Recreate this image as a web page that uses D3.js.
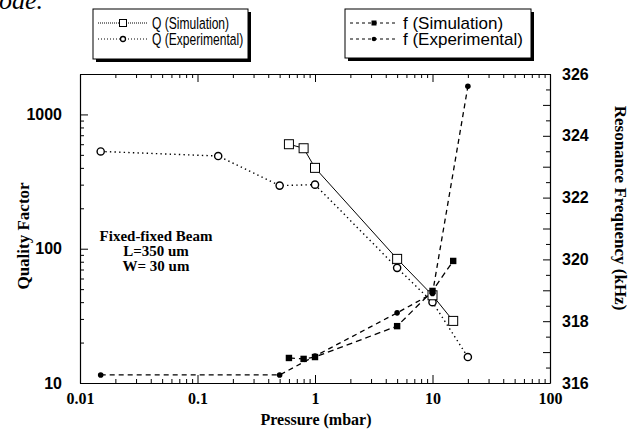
<!DOCTYPE html>
<html lang="en">
<head>
<meta charset="UTF-8">
<title>Quality factor and resonance frequency vs pressure</title>
<script src="https://d3js.org/d3.v7.min.js"></script>
<style>
  body { margin: 0; background: #fff; }
  svg { display: block; }
  .serif { font-family: "Liberation Serif", "Times New Roman", serif; font-weight: bold; }
  .sans { font-family: "Liberation Sans", Arial, sans-serif; }
</style>
</head>
<body>
<svg width="632" height="435"></svg>
<script>
// values
const qSimP = [0.6, 0.8, 1, 5, 10, 15];
const qSimQ = [600, 560, 400, 84, 45, 29];
const qExpP = [0.015, 0.15, 0.5, 1, 5, 10, 20];
const qExpQ = [530, 490, 295, 300, 72, 40, 15.6];
const fSimP = [0.6, 0.8, 1, 5, 10, 15];
const fSimF = [316.81, 316.78, 316.84, 317.84, 318.98, 319.95];
const fExpP = [0.015, 0.5, 1, 5, 10, 20];
const fExpF = [316.26, 316.26, 316.87, 318.27, 318.9, 325.6];

const xTickLabels = ["0.01", "0.1", "1", "10", "100"];
const qTickLabels = ["10", "100", "1000"];
const fTickLabels = ["316", "318", "320", "322", "324", "326"];

const legendQ = ["Q (Simulation)", "Q (Experimental)"];
const legendF = ["f (Simulation)", "f (Experimental)"];
const beamText = ["Fixed-fixed Beam", "L=350 um", "W= 30 um"];

const svg = d3.select("svg");
const pLeft = 80, pRight = 550, pTop = 74, pBottom = 383;

const x = d3.scaleLog().domain([0.01, 100]).range([pLeft, pRight]);
const yQ = d3.scaleLog().domain([10, 2000]).range([pBottom, pTop]);
const yF = d3.scaleLinear().domain([316, 326]).range([pBottom, pTop]);

const isDecade = v => Math.abs(Math.log10(v) - Math.round(Math.log10(v))) < 1e-9;

// ticks: 1..9 per decade
const xTicks = x.ticks();
const qTicks = yQ.ticks().concat([2000]).filter((v, i, a) => a.indexOf(v) === i);
const fTicks = d3.range(316, 326.01, 0.5);

function styleAxis(g) {
  g.select(".domain").attr("stroke", "#000").attr("stroke-width", 1.2);
  g.selectAll(".tick line").attr("stroke", "#000").attr("stroke-width", 1);
}

// bottom
const gB = svg.append("g").attr("transform", `translate(0,${pBottom})`)
  .call(d3.axisBottom(x).tickValues(xTicks).tickSizeInner(-8).tickSizeOuter(0).tickPadding(10)
    .tickFormat(v => isDecade(v) ? xTickLabels[Math.round(Math.log10(v)) + 2] : ""));
styleAxis(gB);
gB.selectAll(".tick line").attr("y2", d => isDecade(d) ? -8 : -4);
gB.selectAll("text").attr("class", "serif").attr("font-size", 16).attr("fill", "#000");

// top
const gT = svg.append("g").attr("transform", `translate(0,${pTop})`)
  .call(d3.axisTop(x).tickValues(xTicks).tickSizeInner(-8).tickSizeOuter(0).tickFormat(""));
styleAxis(gT);
gT.selectAll(".tick line").attr("y2", d => isDecade(d) ? 8 : 4);

// left (Q)
const gL = svg.append("g").attr("transform", `translate(${pLeft},0)`)
  .call(d3.axisLeft(yQ).tickValues(qTicks).tickSizeInner(-8).tickSizeOuter(0).tickPadding(18)
    .tickFormat(v => isDecade(v) ? qTickLabels[Math.round(Math.log10(v)) - 1] : ""));
styleAxis(gL);
gL.selectAll(".tick line").attr("x2", d => isDecade(d) ? 8 : 4);
gL.selectAll("text").attr("class", "sans").attr("font-weight", "bold").attr("font-size", 16).attr("fill", "#000");

// right (f)
const gR = svg.append("g").attr("transform", `translate(${pRight},0)`)
  .call(d3.axisRight(yF).tickValues(fTicks).tickSizeInner(-5).tickSizeOuter(0).tickPadding(12)
    .tickFormat(v => v % 2 === 0 ? fTickLabels[(v - 316) / 2] : ""));
styleAxis(gR);
gR.selectAll(".tick line").attr("x2", d => d % 1 === 0 ? -7 : -4);
gR.selectAll("text").attr("class", "sans").attr("font-weight", "bold").attr("font-size", 16).attr("fill", "#000");

// lines
const qLine = d3.line().x(d => x(d[0])).y(d => yQ(d[1]));
const fLine = d3.line().x(d => x(d[0])).y(d => yF(d[1]));
const qSim = d3.zip(qSimP, qSimQ), qExp = d3.zip(qExpP, qExpQ);
const fSim = d3.zip(fSimP, fSimF), fExp = d3.zip(fExpP, fExpF);

const plot = svg.append("g").attr("fill", "none").attr("stroke", "#000");
plot.append("path").attr("d", qLine(qExp)).attr("stroke-width", 1.4).attr("stroke-dasharray", "1.4 3.2");
plot.append("path").attr("d", qLine(qSim)).attr("stroke-width", 1);
plot.append("path").attr("d", fLine(fSim)).attr("stroke-width", 1.3).attr("stroke-dasharray", "6 4");
plot.append("path").attr("d", fLine(fExp)).attr("stroke-width", 1.3).attr("stroke-dasharray", "5 4");

function marks(g, data, yS, kind) {
  data.forEach(d => {
    const cx = x(d[0]), cy = yS(d[1]);
    if (kind === "sqOpen") g.append("rect").attr("x", cx - 4.5).attr("y", cy - 4.5).attr("width", 9).attr("height", 9)
      .attr("fill", "#fff").attr("stroke", "#000").attr("stroke-width", 1);
    if (kind === "cOpen") g.append("circle").attr("cx", cx).attr("cy", cy).attr("r", 3.6)
      .attr("fill", "#fff").attr("stroke", "#000").attr("stroke-width", 1.4);
    if (kind === "sqFill") g.append("rect").attr("x", cx - 3.2).attr("y", cy - 3.2).attr("width", 6.4).attr("height", 6.4)
      .attr("fill", "#000");
    if (kind === "cFill") g.append("circle").attr("cx", cx).attr("cy", cy).attr("r", 2.8).attr("fill", "#000");
  });
}
const gm = svg.append("g");
marks(gm, qExp, yQ, "cOpen");
marks(gm, qSim, yQ, "sqOpen");
marks(gm, fExp, yF, "cFill");
marks(gm, fSim, yF, "sqFill");

// beam text
svg.append("g").selectAll("text").data(beamText).enter().append("text")
  .attr("class", "serif").attr("font-size", 15).attr("text-anchor", "middle")
  .attr("x", 156).attr("y", (d, i) => 241 + i * 15).text(d => d);

// axis titles
svg.append("text").attr("class", "serif").attr("font-size", 17).attr("text-anchor", "middle")
  .attr("transform", "translate(29,236) rotate(-90)").text("Quality Factor");
svg.append("text").attr("class", "serif").attr("font-size", 17).attr("text-anchor", "middle")
  .attr("transform", "translate(615,208) rotate(90)").text("Resonance Frequency (kHz)");
svg.append("text").attr("class", "serif").attr("font-size", 16).attr("text-anchor", "middle")
  .attr("x", 316).attr("y", 425).text("Pressure (mbar)");

// caption fragment above the figure
svg.append("text").attr("font-family", "Liberation Serif, serif").attr("font-style", "italic")
  .attr("font-size", 26).attr("x", -1).attr("y", 9).text("ode.");

// legends
function legend(x0, y0, w, h, labels, opt) {
  const g = svg.append("g").attr("transform", `translate(${x0},${y0})`);
  g.append("rect").attr("x", 3).attr("y", 3).attr("width", w).attr("height", h).attr("fill", "#000");
  g.append("rect").attr("width", w).attr("height", h).attr("fill", "#fff").attr("stroke", "#000").attr("stroke-width", 1);
  labels.forEach((lab, i) => {
    const yy = 14 + i * 16;
    const it = opt.items[i];
    g.append("line").attr("x1", opt.x1).attr("x2", opt.x2).attr("y1", yy).attr("y2", yy)
      .attr("stroke", "#000").attr("stroke-width", 1).attr("stroke-dasharray", it.dash);
    const mx = (opt.x1 + opt.x2) / 2;
    if (it.mark === "sqOpen") g.append("rect").attr("x", mx - 3.5).attr("y", yy - 3.5).attr("width", 7).attr("height", 7)
      .attr("fill", "#fff").attr("stroke", "#000");
    if (it.mark === "cOpen") g.append("circle").attr("cx", mx).attr("cy", yy).attr("r", 2.5).attr("fill", "#fff").attr("stroke", "#000").attr("stroke-width", 1.3);
    if (it.mark === "sqFill") g.append("rect").attr("x", mx - 2.5).attr("y", yy - 2.5).attr("width", 5).attr("height", 5).attr("fill", "#000");
    if (it.mark === "cFill") g.append("circle").attr("cx", mx).attr("cy", yy).attr("r", 2.3).attr("fill", "#000");
    g.append("text").attr("class", "sans").attr("font-size", 17).attr("x", 0).attr("y", 0)
      .attr("transform", `translate(${opt.tx},${yy + 6}) scale(${opt.sx},1)`).text(lab);
  });
}
legend(93, 9, 155, 50, legendQ, {
  x1: 5, x2: 55, tx: 59, sx: 0.71,
  items: [{ dash: "1 1", mark: "sqOpen" }, { dash: "1 2", mark: "cOpen" }]
});
legend(345, 9, 186, 49, legendF, {
  x1: 5, x2: 53, tx: 58, sx: 1.0,
  items: [{ dash: "3 3", mark: "sqFill" }, { dash: "3 3", mark: "cFill" }]
});
</script>
</body>
</html>
